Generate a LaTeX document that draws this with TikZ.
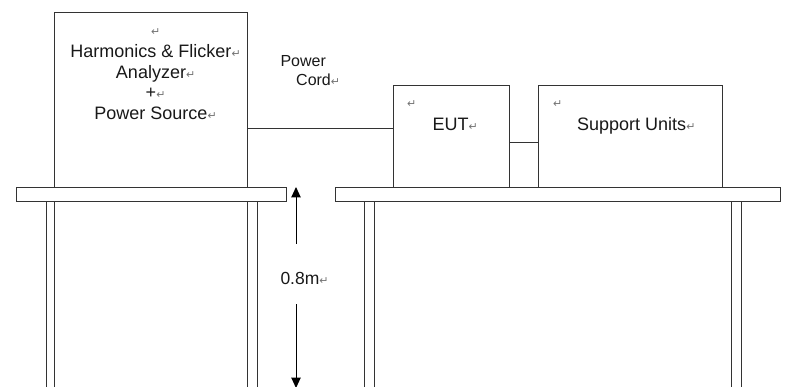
\documentclass[tikz,border=0pt]{standalone}
\usepackage{fontspec}
\setmainfont{Liberation Sans}
\newfontfamily\symf{DejaVu Sans}
\usetikzlibrary{arrows.meta}
\newcommand{\retmark}{{\symf\fontsize{11}{11}\selectfont\textcolor{black!55}{↵}}}
\begin{document}
\begin{tikzpicture}[x=1pt,y=-1pt,line width=1pt,
  box/.style={draw=black!80,fill=white,inner sep=0pt,anchor=north west},
  txt/.style={font=\fontsize{18}{20.7}\selectfont,inner sep=0pt,text=black!90},
  small/.style={font=\fontsize{16}{19}\selectfont,inner sep=0pt,text=black!90},
  mk/.style={inner sep=0pt},
  ln/.style={draw=black!80},
  arr/.style={draw=black,-{Triangle[length=10.5pt,width=9.5pt]}}]
\useasboundingbox (0,0) rectangle (808,387);
% tables
\node[box,minimum width=270pt,minimum height=14.5pt] (tabL) at (16,187) {};
\node[box,minimum width=445.5pt,minimum height=14.5pt] (tabR) at (334.5,187) {};
% legs
\coordinate (bot) at (0,388);
\foreach \x [count=\i] in {46,54,247,257}{
  \coordinate (lL\i) at (\x,201.5);
  \draw[ln] (lL\i) -- (lL\i |- bot);
}
\foreach \x [count=\i] in {364,374,731.5,741.5}{
  \coordinate (lR\i) at (\x,201.5);
  \draw[ln] (lR\i) -- (lR\i |- bot);
}
% equipment boxes
\node[box,minimum width=193pt,minimum height=175pt] (ana) at (54,12) {};
\node[box,minimum width=115.5pt,minimum height=101.5pt] (eut) at (393.3,85.5) {};
\node[box,minimum width=184pt,minimum height=101.5pt] (sup) at (538,85.5) {};
% connections
\coordinate (cy) at (0,128.3);
\coordinate (sy) at (0,143);
\draw[ln] (ana.east |- cy) -- (eut.west |- cy);
\draw[ln] (eut.east |- sy) -- (sup.west |- sy);
% analyzer text
\node[mk,anchor=west] (m0) at (150.7,32) {\retmark};
\node[txt,anchor=base] (t1) at (151,57.3) {Harmonics \& Flicker\rlap{\retmark}};
\node[txt,anchor=base] (t2) at (151,78.4) {Analyzer\rlap{\retmark}};
\node[txt,anchor=base] (t3) at (151,98.6) {+\rlap{\retmark}};
\node[txt,anchor=base] (t4) at (151,119.4) {Power Source\rlap{\retmark}};
% power cord text
\node[small,anchor=base west] (pc1) at (280,66.7) {Power};
\node[small,anchor=base west] (pc2) at (295.7,86) {Cord\retmark};
% EUT text
\node[mk,anchor=west] (m1) at (406.7,104.3) {\retmark};
\node[txt,anchor=base west] (eutt) at (432,130.7) {EUT\retmark};
% support text
\node[mk,anchor=west] (m2) at (552.7,104) {\retmark};
\node[txt,anchor=base west] (supt) at (576.7,130.7) {Support Units\retmark};
% height dimension
\node[txt,font=\fontsize{17.5}{20}\selectfont,anchor=base west] (h) at (280,284.3) {0.8m\retmark};
\coordinate (a1) at (296,244);
\coordinate (a2) at (296,187);
\coordinate (a3) at (296,304);
\coordinate (a4) at (296,388);
\draw[arr] (a1) -- (a2);
\draw[arr] (a3) -- (a4);
\end{tikzpicture}
\end{document}
